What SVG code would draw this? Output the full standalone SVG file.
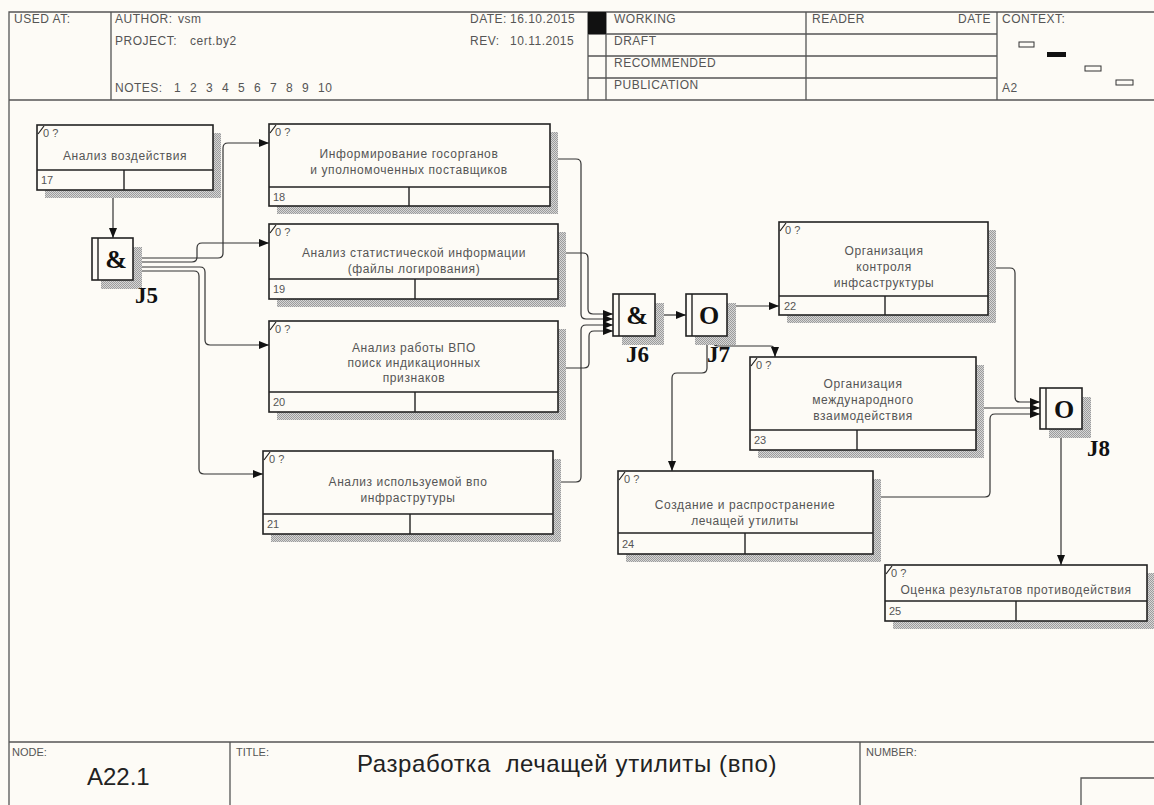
<svg xmlns="http://www.w3.org/2000/svg" width="1154" height="805" viewBox="0 0 1154 805">
  <style>
    .bg { fill: #fdfbf6; }
    .frame { stroke: #555; stroke-width: 1.3; fill: none; }
    .hdr { font-family: "Liberation Sans", Arial, sans-serif; font-size: 12px; letter-spacing: 0.5px; fill: #555; }
    .small { font-family: "Liberation Sans", Arial, sans-serif; font-size: 11px; fill: #555; }
    .big { font-family: "Liberation Sans", Arial, sans-serif; font-size: 24px; fill: #222; }
    .box { fill: #fdfbf6; stroke: #222; stroke-width: 1.6; }
    .shadow { fill: url(#dither); }
    .div { stroke: #222; stroke-width: 1.4; fill: none; }
    .lbl { font-family: "Liberation Sans", Arial, sans-serif; font-size: 12px; letter-spacing: 0.6px; fill: #555; text-anchor: middle; }
    .ref { font-family: "Liberation Sans", Arial, sans-serif; font-size: 11px; fill: #555; }
    .corner { stroke: #222; stroke-width: 1.2; }
    .jsym { font-family: "Liberation Serif", "Times New Roman", serif; font-weight: bold; font-size: 26px; fill: #111; text-anchor: middle; }
    .jname { font-family: "Liberation Serif", "Times New Roman", serif; font-weight: bold; font-size: 23px; fill: #111; }
    .conn path { fill: none; stroke: #333; stroke-width: 1.2; marker-end: url(#arrow); }
  </style>
  <defs>
    <pattern id="dither" width="2" height="2" patternUnits="userSpaceOnUse">
      <rect width="2" height="2" fill="#d6d6d6"/>
      <rect width="1" height="1" fill="#9c9c9c"/>
      <rect x="1" y="1" width="1" height="1" fill="#9c9c9c"/>
    </pattern>
    <marker id="arrow" markerUnits="userSpaceOnUse" markerWidth="10" markerHeight="8" viewBox="0 0 10 8" refX="10" refY="4" orient="auto">
      <path d="M0,0 L10,4 L0,8 Z" fill="#111"/>
    </marker>
  </defs>

  <rect class="bg" x="0" y="0" width="1154" height="805"/>

  <!-- header form -->
  <g id="header">
    <path class="frame" d="M9,805 V12 H1154 M9,100 H1154 M111,12 V100 M588,12 V100 M606,12 V100 M806,12 V100 M997,12 V100 M588,34 H997 M588,56 H997 M588,78 H997"/>
    <rect x="588" y="12" width="18" height="22" fill="#111"/>
    <text class="hdr" x="14" y="23">USED AT:</text>
    <text class="hdr" x="115" y="23">AUTHOR:</text>
    <text class="hdr" x="178" y="23">vsm</text>
    <text class="hdr" x="115" y="45">PROJECT:</text>
    <text class="hdr" x="190" y="45">cert.by2</text>
    <text class="hdr" x="115" y="92">NOTES:</text>
    <g class="hdr">
      <text x="174" y="92">1</text><text x="190" y="92">2</text><text x="206" y="92">3</text>
      <text x="222" y="92">4</text><text x="238" y="92">5</text><text x="254" y="92">6</text>
      <text x="270" y="92">7</text><text x="286" y="92">8</text><text x="302" y="92">9</text>
      <text x="318" y="92">10</text>
    </g>
    <text class="hdr" x="470" y="23">DATE:</text>
    <text class="hdr" x="510" y="23">16.10.2015</text>
    <text class="hdr" x="470" y="45">REV:</text>
    <text class="hdr" x="510" y="45">10.11.2015</text>
    <text class="hdr" x="614" y="23">WORKING</text>
    <text class="hdr" x="614" y="45">DRAFT</text>
    <text class="hdr" x="614" y="67">RECOMMENDED</text>
    <text class="hdr" x="614" y="89">PUBLICATION</text>
    <text class="hdr" x="812" y="23">READER</text>
    <text class="hdr" x="958" y="23">DATE</text>
    <text class="hdr" x="1002" y="23">CONTEXT:</text>
    <text class="hdr" x="1002" y="92">A2</text>
    <rect x="1019" y="42" width="15" height="5" fill="none" stroke="#333" stroke-width="1"/>
    <rect x="1047" y="52" width="19" height="5" fill="#111"/>
    <rect x="1085" y="66" width="16" height="5" fill="none" stroke="#333" stroke-width="1"/>
    <rect x="1116" y="80" width="17" height="5" fill="none" stroke="#333" stroke-width="1"/>
  </g>

  <!-- footer form -->
  <g id="footer">
    <path class="frame" d="M9,742 H1154 M230,742 V805 M860,742 V805 M1081,805 V778 H1154"/>
    <text class="small" x="12" y="756">NODE:</text>
    <text class="big" x="87" y="785">A22.1</text>
    <text class="small" x="236" y="756">TITLE:</text>
    <text class="big" x="357" y="772" letter-spacing="0.6" xml:space="preserve">Разработка  лечащей утилиты (впо)</text>
    <text class="small" x="866" y="756">NUMBER:</text>
  </g>

  <!-- connectors -->
  <g id="connectors" class="conn">
    <path d="M113,190 V238"/>
    <path d="M133,258 H218 Q223,258 223,253 V148 Q223,143 228,143 H269"/>
    <path d="M133,262 H192 Q197,262 197,257 V248 Q197,243 202,243 H269"/>
    <path d="M133,267 H200 Q205,267 205,272 V340 Q205,345 210,345 H269"/>
    <path d="M133,271 H194 Q199,271 199,276 V469 Q199,474 204,474 H263"/>
    <path d="M550,159 H576 Q581,159 581,164 V314 Q581,319 586,319 H613"/>
    <path d="M558,253 H583 Q588,253 588,258 V309 Q588,314 593,314 H613"/>
    <path d="M558,368 H584 Q589,368 589,363 V336 Q589,331 594,331 H613"/>
    <path d="M553,482 H576 Q581,482 581,477 V330 Q581,325 586,325 H613"/>
    <path d="M655,315 H686"/>
    <path d="M727,306 H779"/>
    <path d="M713,336 V341 Q713,346 718,346 H770 Q775,346 775,351 V357"/>
    <path d="M707,336 V368 Q707,373 702,373 H677 Q672,373 672,378 V471"/>
    <path d="M988,268 H1010 Q1015,268 1015,273 V397 Q1015,402 1020,402 H1040"/>
    <path d="M976,408 H1040"/>
    <path d="M873,497 H985 Q990,497 990,492 V419 Q990,414 995,414 H1040"/>
    <path d="M1061,429 V565"/>
  </g>

  <!-- activity boxes -->
  <g id="node-17">
    <rect class="shadow" x="45" y="133" width="176" height="65"/>
    <rect class="box" x="37" y="125" width="176" height="65"/>
    <path class="div" d="M37,170 H213 M124,170 V190"/>
    <line class="corner" x1="38" y1="134" x2="44" y2="126"/>
    <text class="ref" x="43" y="137">0 ?</text>
    <text class="lbl" x="125" y="160">Анализ воздействия</text>
    <text class="ref" x="41" y="184">17</text>
  </g>
  <g id="node-18">
    <rect class="shadow" x="277" y="132" width="281" height="82"/>
    <rect class="box" x="269" y="124" width="281" height="82"/>
    <path class="div" d="M269,187 H550 M409,187 V206"/>
    <line class="corner" x1="270" y1="133" x2="276" y2="125"/>
    <text class="ref" x="275" y="136">0 ?</text>
    <text class="lbl" x="409" y="158">Информирование госорганов</text>
    <text class="lbl" x="409" y="174">и уполномоченных поставщиков</text>
    <text class="ref" x="273" y="201">18</text>
  </g>
  <g id="node-19">
    <rect class="shadow" x="277" y="232" width="289" height="75"/>
    <rect class="box" x="269" y="224" width="289" height="75"/>
    <path class="div" d="M269,279 H558 M415,279 V299"/>
    <line class="corner" x1="270" y1="233" x2="276" y2="225"/>
    <text class="ref" x="275" y="236">0 ?</text>
    <text class="lbl" x="414" y="257">Анализ статистической информации</text>
    <text class="lbl" x="414" y="273">(файлы логирования)</text>
    <text class="ref" x="273" y="293">19</text>
  </g>
  <g id="node-20">
    <rect class="shadow" x="277" y="329" width="289" height="91"/>
    <rect class="box" x="269" y="321" width="289" height="91"/>
    <path class="div" d="M269,392 H558 M415,392 V412"/>
    <line class="corner" x1="270" y1="330" x2="276" y2="322"/>
    <text class="ref" x="275" y="333">0 ?</text>
    <text class="lbl" x="414" y="352">Анализ работы ВПО</text>
    <text class="lbl" x="414" y="367">поиск индикационных</text>
    <text class="lbl" x="414" y="382">признаков</text>
    <text class="ref" x="273" y="406">20</text>
  </g>
  <g id="node-21">
    <rect class="shadow" x="271" y="459" width="290" height="83"/>
    <rect class="box" x="263" y="451" width="290" height="83"/>
    <path class="div" d="M263,514 H553 M410,514 V534"/>
    <line class="corner" x1="264" y1="460" x2="270" y2="452"/>
    <text class="ref" x="269" y="463">0 ?</text>
    <text class="lbl" x="408" y="486">Анализ используемой впо</text>
    <text class="lbl" x="408" y="502">инфраструтуры</text>
    <text class="ref" x="267" y="528">21</text>
  </g>
  <g id="node-22">
    <rect class="shadow" x="787" y="230" width="209" height="93"/>
    <rect class="box" x="779" y="222" width="209" height="93"/>
    <path class="div" d="M779,296 H988 M885,296 V315"/>
    <line class="corner" x1="780" y1="231" x2="786" y2="223"/>
    <text class="ref" x="785" y="234">0 ?</text>
    <text class="lbl" x="884" y="255">Организация</text>
    <text class="lbl" x="884" y="271">контроля</text>
    <text class="lbl" x="884" y="287">инфсаструктуры</text>
    <text class="ref" x="784" y="310">22</text>
  </g>
  <g id="node-23">
    <rect class="shadow" x="758" y="365" width="226" height="93"/>
    <rect class="box" x="750" y="357" width="226" height="93"/>
    <path class="div" d="M750,430 H976 M857,430 V450"/>
    <line class="corner" x1="751" y1="366" x2="757" y2="358"/>
    <text class="ref" x="756" y="369">0 ?</text>
    <text class="lbl" x="863" y="388">Организация</text>
    <text class="lbl" x="863" y="404">международного</text>
    <text class="lbl" x="863" y="420">взаимодействия</text>
    <text class="ref" x="754" y="444">23</text>
  </g>
  <g id="node-24">
    <rect class="shadow" x="626" y="479" width="255" height="83"/>
    <rect class="box" x="618" y="471" width="255" height="83"/>
    <path class="div" d="M618,533 H873 M745,533 V554"/>
    <line class="corner" x1="619" y1="480" x2="625" y2="472"/>
    <text class="ref" x="624" y="483">0 ?</text>
    <text class="lbl" x="745" y="509">Создание и распространение</text>
    <text class="lbl" x="745" y="525">лечащей утилиты</text>
    <text class="ref" x="622" y="548">24</text>
  </g>
  <g id="node-25">
    <rect class="shadow" x="893" y="573" width="262" height="56"/>
    <rect class="box" x="885" y="565" width="262" height="56"/>
    <path class="div" d="M885,601 H1147 M1016,601 V621"/>
    <line class="corner" x1="886" y1="574" x2="892" y2="566"/>
    <text class="ref" x="891" y="577">0 ?</text>
    <text class="lbl" x="1016" y="594">Оценка результатов противодействия</text>
    <text class="ref" x="889" y="615">25</text>
  </g>

  <!-- junctions -->
  <g id="J5">
    <rect class="shadow" x="101" y="247" width="41" height="42"/>
    <rect class="box" x="92" y="238" width="41" height="42"/>
    <line class="div" x1="98" y1="238" x2="98" y2="280"/>
    <text class="jsym" x="116" y="268">&amp;</text>
    <text class="jname" x="135" y="303">J5</text>
  </g>
  <g id="J6">
    <rect class="shadow" x="622" y="303" width="42" height="42"/>
    <rect class="box" x="613" y="294" width="42" height="42"/>
    <line class="div" x1="619" y1="294" x2="619" y2="336"/>
    <text class="jsym" x="637" y="324">&amp;</text>
    <text class="jname" x="626" y="362">J6</text>
  </g>
  <g id="J7">
    <rect class="shadow" x="695" y="303" width="41" height="42"/>
    <rect class="box" x="686" y="294" width="41" height="42"/>
    <line class="div" x1="692" y1="294" x2="692" y2="336"/>
    <text class="jsym" x="709" y="324">O</text>
    <text class="jname" x="707" y="362">J7</text>
  </g>
  <g id="J8">
    <rect class="shadow" x="1049" y="397" width="42" height="41"/>
    <rect class="box" x="1040" y="388" width="42" height="41"/>
    <line class="div" x1="1046" y1="388" x2="1046" y2="429"/>
    <text class="jsym" x="1064" y="418">O</text>
    <text class="jname" x="1087" y="456">J8</text>
  </g>
</svg>
